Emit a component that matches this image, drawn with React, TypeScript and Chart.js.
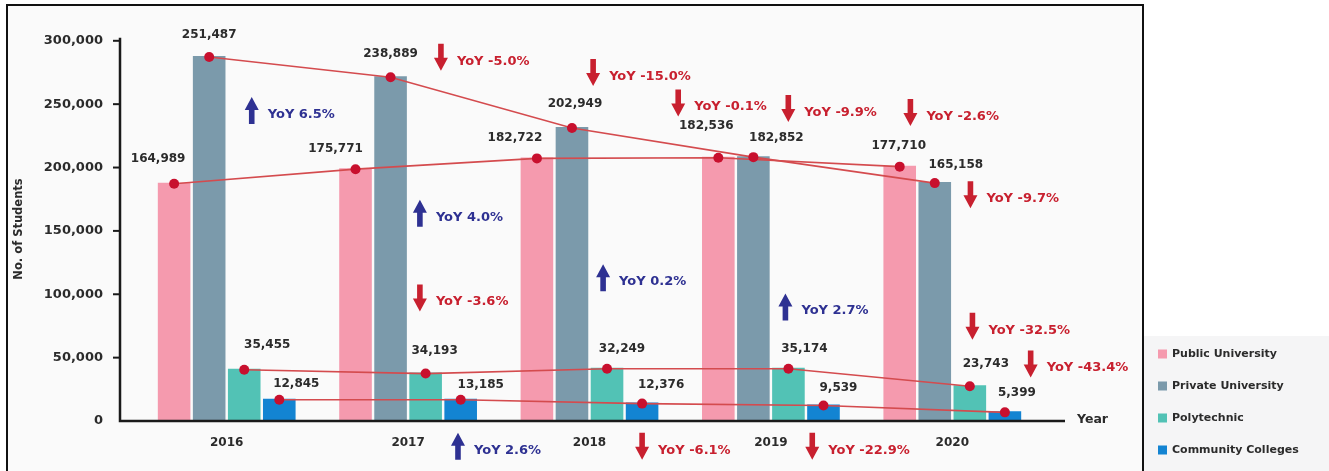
import { useEffect, useRef } from "react";
import { Chart, registerables } from "chart.js";

Chart.register(...registerables);

// ---------- data ----------
const years = ["2016", "2017", "2018", "2019", "2020"];
const seriesNames = ["Public University", "Private University", "Polytechnic", "Community Colleges"];

// bar heights as drawn in the reference
const publicHeights = [188000, 199500, 208000, 208500, 201500];
const privateHeights = [288000, 272000, 232000, 209000, 188500];
const polytechnicHeights = [41200, 38200, 42000, 42000, 28200];
const communityHeights = [17600, 17600, 14500, 13000, 7600];

// printed value labels
const publicLabels = ["164,989", "175,771", "182,722", "182,536", "177,710"];
const privateLabels = ["251,487", "238,889", "202,949", "182,852", "165,158"];
const polytechnicLabels = ["35,455", "34,193", "32,249", "35,174", "23,743"];
const communityLabels = ["12,845", "13,185", "12,376", "9,539", "5,399"];

const yTickValues = [0, 50000, 100000, 150000, 200000, 250000, 300000];

// YoY annotations (text, direction, anchor in data units: category position / value)
const yoyTexts = [
  "YoY 6.5%", "YoY -5.0%", "YoY 4.0%", "YoY -3.6%", "YoY 2.6%", "YoY -15.0%",
  "YoY 0.2%", "YoY -6.1%", "YoY -0.1%", "YoY -9.9%", "YoY 2.7%", "YoY -22.9%",
  "YoY -2.6%", "YoY -9.7%", "YoY -32.5%", "YoY -43.4%",
];
const yoyUp = [true, false, true, false, true, false, true, false, false, false, true, false, false, false, false, false];
const yoyAnchorX = [0.138, 1.181, 1.065, 1.065, 1.275, 2.02, 2.075, 2.29, 2.489, 3.096, 3.08, 3.228, 3.769, 4.1, 4.111, 4.432];
const yoyAnchorY = [245000, 287000, 164000, 97000, -20000, 275000, 113000, -20000, 251000, 246500, 90000, -20000, 243500, 178600, 74800, 45000];

// ---------- styling ----------
const barColors = ["#f59aae", "#7b9aab", "#52c2b5", "#1384d2"];
const lineColor = "#d44b4e";
const dotColor = "#c8102e";
const upColor = "#2e3192";
const downColor = "#c8202f";
const textColor = "#2b2b2b";
const FONT = "'DejaVu Sans', sans-serif";
const CAT_PCT = 0.773;
const BAR_PCT = 0.93;

// label offsets (px) relative to bar top centre, per series
const labelOffsets: number[][][] = [
  [[-16, -24], [-20, -19], [-22, -20], [-12, -31], [-1, -20]],
  [[0, -21], [0, -22], [3, -23], [23, -18], [21, -17]],
  [[23, -24], [9, -22], [15, -19], [16, -19], [16, -21]],
  [[17, -15], [20, -14], [19, -18], [15, -17], [12, -18]],
];

export default function App() {
  const ref = useRef<HTMLCanvasElement | null>(null);

  useEffect(() => {
    const canvas = ref.current;
    if (!canvas) return;
    const heights = [publicHeights, privateHeights, polytechnicHeights, communityHeights];
    const labels = [publicLabels, privateLabels, polytechnicLabels, communityLabels];

    const barSets = heights.map((h, j) => ({
      type: "bar" as const,
      label: seriesNames[j],
      data: h,
      backgroundColor: barColors[j],
      categoryPercentage: CAT_PCT,
      barPercentage: BAR_PCT,
    }));

    const decor = {
      id: "decor",
      beforeDraw(chart: any) {
        const { ctx } = chart;
        ctx.save();
        ctx.fillStyle = "#ffffff";
        ctx.fillRect(0, 0, chart.width, chart.height);
        ctx.fillStyle = "#fafafa";
        ctx.fillRect(7, 5, 1136, chart.height);
        ctx.fillStyle = "#f5f5f6";
        ctx.fillRect(1144, 336, chart.width - 1144, chart.height - 336);
        ctx.strokeStyle = "#111";
        ctx.lineWidth = 2;
        ctx.beginPath();
        ctx.moveTo(7, chart.height + 2);
        ctx.lineTo(7, 5);
        ctx.lineTo(1143, 5);
        ctx.lineTo(1143, chart.height + 2);
        ctx.stroke();
        ctx.restore();
      },
      afterDatasetsDraw(chart: any) {
        const { ctx, chartArea, scales } = chart;
        const ys = scales.y;
        const xs = scales.x;
        const x0 = xs.getPixelForValue(0);
        const unit = xs.getPixelForValue(1) - x0;
        ctx.save();

        // trend lines through bar tops
        for (let j = 0; j < 4; j++) {
          const pts = chart.getDatasetMeta(j).data;
          ctx.strokeStyle = lineColor;
          ctx.lineWidth = 1.6;
          ctx.beginPath();
          pts.forEach((el: any, i: number) => {
            if (i === 0) ctx.moveTo(el.x, el.y + 1);
            else ctx.lineTo(el.x, el.y + 1);
          });
          ctx.stroke();
          ctx.fillStyle = dotColor;
          pts.forEach((el: any) => {
            ctx.beginPath();
            ctx.arc(el.x, el.y + 1, 5, 0, Math.PI * 2);
            ctx.fill();
          });
        }

        // axes
        const axX = chartArea.left - 16;
        const axY = chartArea.bottom;
        ctx.strokeStyle = "#1a1a1a";
        ctx.lineWidth = 2.5;
        ctx.beginPath();
        ctx.moveTo(axX, ys.getPixelForValue(300000) - 3);
        ctx.lineTo(axX, axY);
        ctx.lineTo(chartArea.right + 22, axY);
        ctx.stroke();
        ctx.lineWidth = 2;
        yTickValues.forEach((v) => {
          if (v === 0) return;
          const py = ys.getPixelForValue(v);
          ctx.beginPath();
          ctx.moveTo(axX - 7, py);
          ctx.lineTo(axX, py);
          ctx.stroke();
        });

        // value labels
        ctx.fillStyle = textColor;
        ctx.font = `bold 12px ${FONT}`;
        ctx.textAlign = "center";
        ctx.textBaseline = "middle";
        for (let j = 0; j < 4; j++) {
          const meta = chart.getDatasetMeta(j);
          meta.data.forEach((el: any, i: number) => {
            const [dx, dy] = labelOffsets[j][i];
            ctx.fillText(labels[j][i], el.x + dx, el.y + dy);
          });
        }

        // YoY annotations
        ctx.font = `bold 13px ${FONT}`;
        ctx.textAlign = "left";
        yoyTexts.forEach((t, k) => {
          const px = x0 + yoyAnchorX[k] * unit;
          const py = ys.getPixelForValue(yoyAnchorY[k]);
          const up = yoyUp[k];
          ctx.fillStyle = up ? upColor : downColor;
          const s = up ? -1 : 1;
          const top = py - 13.5 * s;
          ctx.beginPath();
          ctx.moveTo(px - 2.8, top);
          ctx.lineTo(px + 2.8, top);
          ctx.lineTo(px + 2.8, py + 0.5 * s);
          ctx.lineTo(px + 7, py + 0.5 * s);
          ctx.lineTo(px, py + 13.5 * s);
          ctx.lineTo(px - 7, py + 0.5 * s);
          ctx.lineTo(px - 2.8, py + 0.5 * s);
          ctx.closePath();
          ctx.fill();
          ctx.fillText(t, px + 16, py + 4);
        });

        // axis titles
        ctx.fillStyle = textColor;
        ctx.font = `bold 12.5px ${FONT}`;
        ctx.fillText("Year", chartArea.right + 34, axY - 1);
        ctx.save();
        ctx.translate(19, 229);
        ctx.rotate(-Math.PI / 2);
        ctx.textAlign = "center";
        ctx.font = `bold 11.5px ${FONT}`;
        ctx.fillText("No. of Students", 0, 0);
        ctx.restore();

        // legend
        ctx.font = `bold 11px ${FONT}`;
        ctx.textAlign = "left";
        for (let j = 0; j < 4; j++) {
          const ds = chart.data.datasets[j];
          const cy = 354 + 32 * j;
          ctx.fillStyle = ds.backgroundColor;
          ctx.fillRect(1158, cy - 4.5, 9, 9);
          ctx.fillStyle = textColor;
          ctx.fillText(ds.label, 1172, cy);
        }
        ctx.restore();
      },
    };

    const chart = new Chart(canvas, {
      type: "bar",
      data: { labels: years, datasets: barSets as any },
      options: {
        animation: false,
        responsive: false,
        maintainAspectRatio: false,
        layout: { padding: { top: 28, right: 286, left: 0, bottom: 0 } },
        plugins: { legend: { display: false }, tooltip: { enabled: false } },
        scales: {
          x: {
            type: "category",
            offset: true,
            grid: { display: false, drawTicks: false },
            border: { display: false },
            ticks: { color: textColor, font: { family: FONT, weight: "bold", size: 12 }, padding: 15 },
            afterFit: (s: any) => {
              s.height = 50;
            },
          },
          y: {
            min: 0,
            max: 300000,
            grid: { display: false, drawTicks: false },
            border: { display: false },
            afterBuildTicks: (s: any) => {
              s.ticks = yTickValues.map((v) => ({ value: v }));
            },
            ticks: {
              color: textColor,
              font: { family: FONT, weight: "bold", size: 13 },
              padding: 33,
              callback: (v: any) => Number(v).toLocaleString("en-US"),
            },
            afterFit: (s: any) => {
              s.width = 136;
            },
          },
        },
      },
      plugins: [decor],
    });
    return () => chart.destroy();
  }, []);

  return (
    <div style={{ position: "fixed", left: 0, top: 0, width: 1329, height: 471 }}>
      <canvas ref={ref} width={1329} height={471} style={{ width: 1329, height: 471, display: "block" }} />
    </div>
  );
}
